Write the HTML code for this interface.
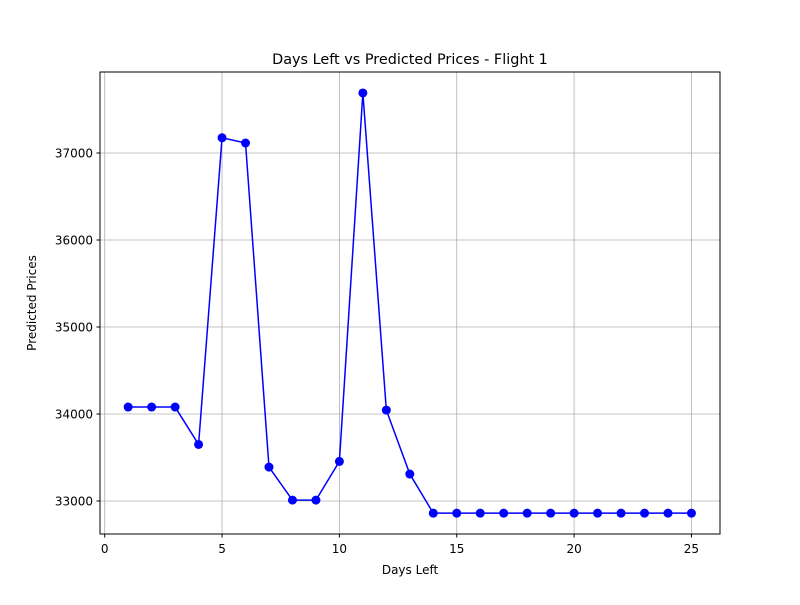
<!DOCTYPE html>
<html><head><meta charset="utf-8"><style>
body{margin:0;background:#fff;}
svg text{font-family:"DejaVu Sans","Liberation Sans",sans-serif;}
</style></head><body>
<svg id="chart" width="800" height="600">
<rect width="800" height="600" fill="#fff"/>
<g id="grid"></g>
<g id="ticks"></g>
<g id="plot"></g>
<rect x="100" y="72" width="620" height="462" fill="none" stroke="#000" stroke-width="1"/>
<text x="410" y="64" text-anchor="middle" font-size="14.4">Days Left vs Predicted Prices - Flight 1</text>
<text x="410" y="574" text-anchor="middle" font-size="12">Days Left</text>
<text x="36" y="303" text-anchor="middle" font-size="12" transform="rotate(-90 36 303)">Predicted Prices</text>
</svg>
<script>
const days=[1,2,3,4,5,6,7,8,9,10,11,12,13,14,15,16,17,18,19,20,21,22,23,24,25];
const prices=[34080,34080,34080,33650,37175,37115,33390,33010,33010,33455,37690,34045,33310,32860,32860,32860,32860,32860,32860,32860,32860,32860,32860,32860,32860];
const xTicks=[0,5,10,15,20,25];
const yTicks=[33000,34000,35000,36000,37000];
const NS="http://www.w3.org/2000/svg";
function X(v){return 104.7+v*23.47;}
function Y(v){return 501-(v-33000)*0.087;}
function mk(p,t,a){const e=document.createElementNS(NS,t);for(const k in a)e.setAttribute(k,a[k]);p.appendChild(e);return e;}
const grid=document.getElementById('grid'),ticks=document.getElementById('ticks'),plot=document.getElementById('plot');
xTicks.forEach(v=>{
 const g=mk(grid,'line',{x1:X(v),x2:X(v),y1:72,y2:534,stroke:'#b0b0b0','stroke-width':0.8});
 
 
 mk(ticks,'line',{x1:X(v),x2:X(v),y1:534,y2:537.5,stroke:'#000'});
 const t=mk(ticks,'text',{x:X(v),y:553,'text-anchor':'middle','font-size':12});
 t.textContent=v;
 
 
});
yTicks.forEach(v=>{
 const g=mk(grid,'line',{x1:100,x2:720,y1:Y(v),y2:Y(v),stroke:'#b0b0b0','stroke-width':0.8});
 
 
 mk(ticks,'line',{x1:96.5,x2:100,y1:Y(v),y2:Y(v),stroke:'#000'});
 const t=mk(ticks,'text',{x:93,y:Y(v)+4.5,'text-anchor':'end','font-size':12});
 t.textContent=v;
 
 
});
const pl=mk(plot,'polyline',{points:days.map((d,i)=>X(d)+','+Y(prices[i])).join(' '),fill:'none',stroke:'#0000ff','stroke-width':1.5});


days.forEach((d,i)=>{
 const c=mk(plot,'circle',{cx:X(d),cy:Y(prices[i]),r:4.5,fill:'#0000ff'});
 
 
});
</script>
</body></html>
